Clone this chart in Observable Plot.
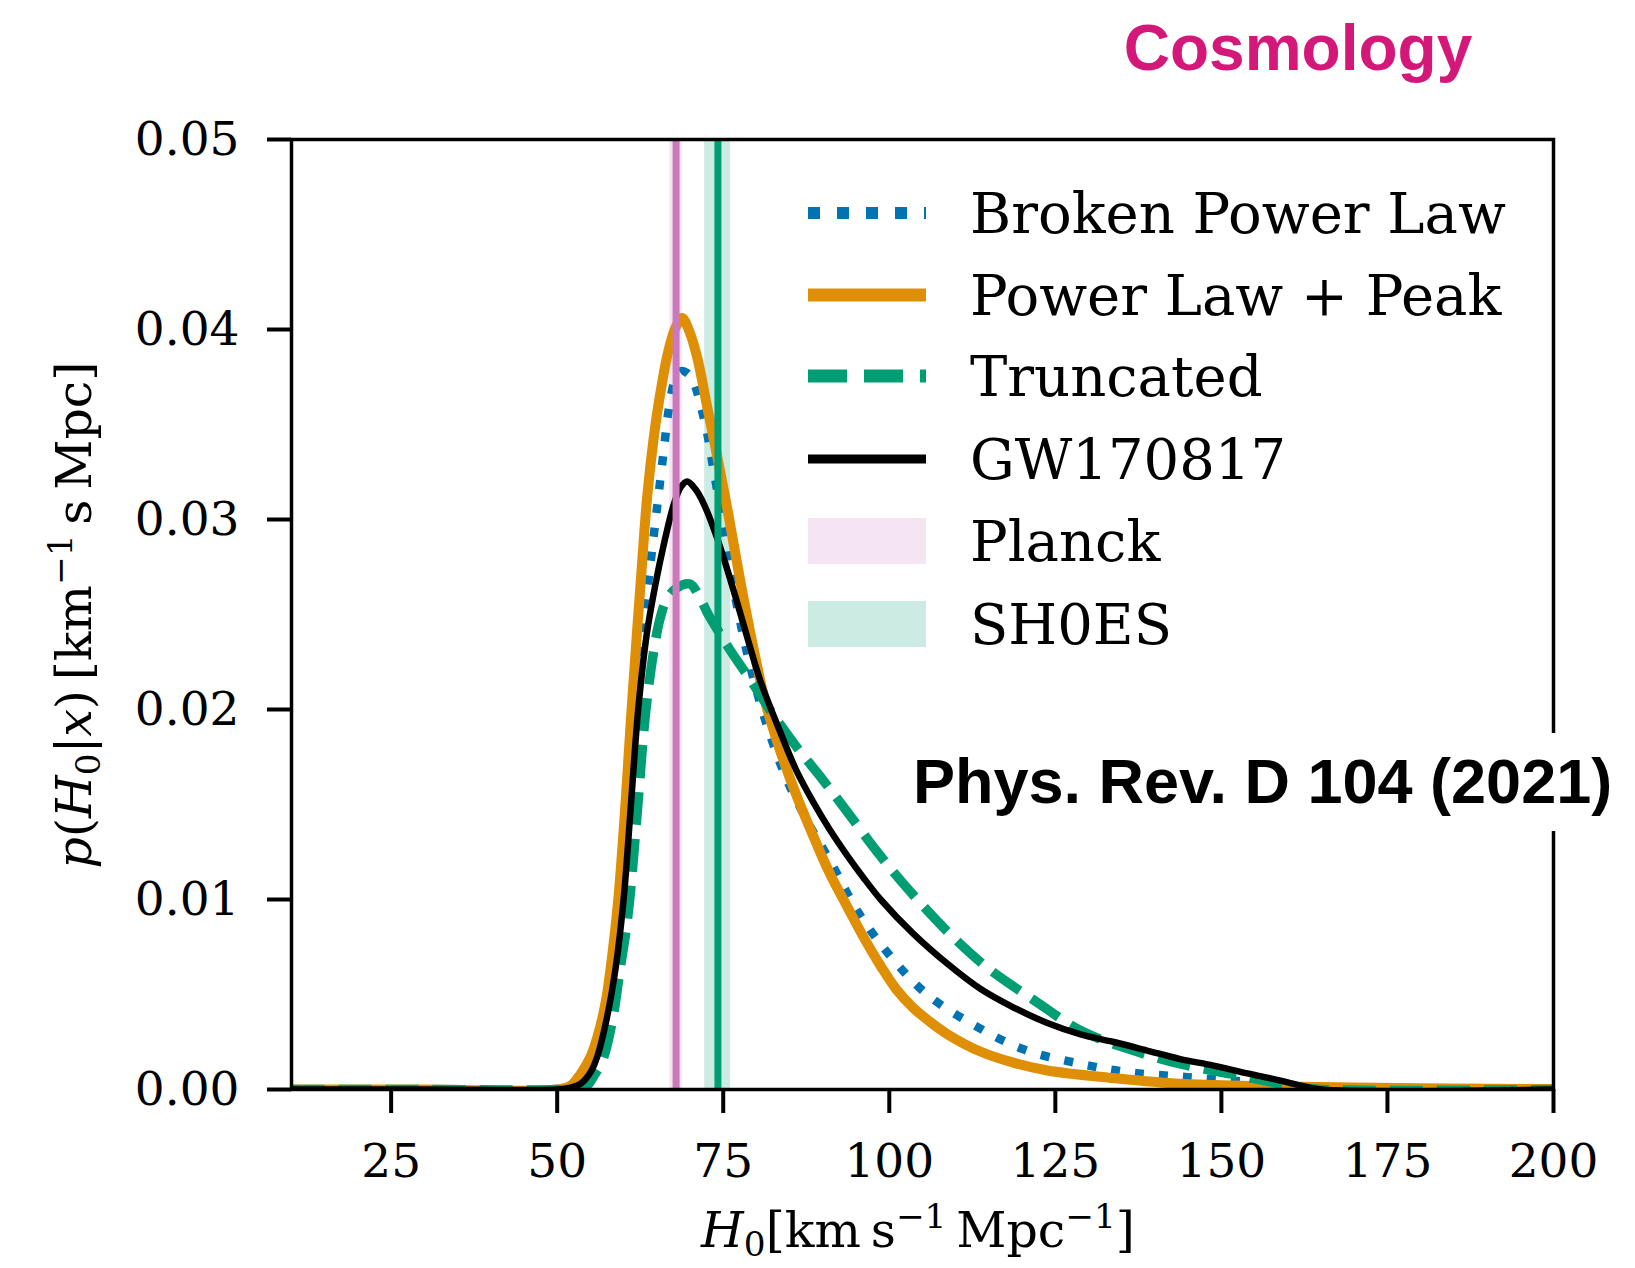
<!DOCTYPE html>
<html>
<head>
<meta charset="utf-8">
<script src="https://cdn.jsdelivr.net/npm/d3@7"></script>
<script src="https://cdn.jsdelivr.net/npm/@observablehq/plot@0.6"></script>
<style>
  html, body { margin: 0; padding: 0; background: #fff; }
  #fig { position: relative; width: 1635px; height: 1268px; overflow: hidden; background: #fff; }
  #fig > svg { position: absolute; left: 0; top: 0; }
  #overlay { pointer-events: none; }
</style>
</head>
<body>
<div id="fig"></div>
<script>
// Axis ticks
const xTicks = [25, 50, 75, 100, 125, 150, 175, 200];
const yTicks = [0, 0.01, 0.02, 0.03, 0.04, 0.05];

// Posterior on H0 — Broken Power Law mass model
const brokenH0 = [10, 30, 50, 51.5, 53.5, 55, 56, 57.3, 58.3, 59.5, 60.3, 61, 62, 63, 64.05, 65.06, 66, 66.8, 67.7, 68.6, 69.6,
  70.57, 71.6, 72.6, 73.3, 74.8, 76.5, 78.5, 80.5, 82.5, 84.7, 88, 91.15, 95.2, 100.2, 105.7, 112.7, 120.3, 128.8, 136.3, 144.9,
  153.9, 160, 166, 175, 200];
const brokenP = [0, 0, 0, 0.0002, 0.0008, 0.0015, 0.0022, 0.004, 0.0064, 0.0097, 0.013, 0.0162, 0.0205, 0.0245, 0.0277, 0.0307, 0.0335, 0.0358, 0.0373, 0.0378, 0.0377,
  0.0372, 0.036, 0.0345, 0.0331, 0.0301, 0.0265, 0.0231, 0.0204, 0.0182, 0.0162, 0.0139, 0.012, 0.0094, 0.007, 0.005, 0.0034, 0.0021, 0.00135, 0.0009, 0.00065,
  0.0004, 0.0002, 0.00005, 0, 0];

// Power Law + Peak mass model
const plpH0 = [10, 30, 50, 52, 53.5, 55, 56, 57.3, 58.3, 59.2, 60.2, 61.1, 62, 62.8, 63.55, 64.8, 65.8, 66.56, 67.7, 68.8,
  69.9, 71.1, 72.6, 74.1, 75.6, 77.6, 79.5, 81.4, 83.6, 86, 88.6, 91, 93.7, 96, 98.7, 101, 103.6, 106, 108.8, 113.7,
  118.8, 123.8, 133.8, 143.8, 156.3, 170, 185, 200];
const plpP = [0, 0, 0, 0.0002, 0.0008, 0.0017, 0.0027, 0.0046, 0.0071, 0.01, 0.0146, 0.0195, 0.024, 0.0278, 0.0312, 0.035, 0.0372, 0.0386, 0.04, 0.0406,
  0.0399, 0.0385, 0.0359, 0.0333, 0.0306, 0.0267, 0.0233, 0.0203, 0.0178, 0.0155, 0.0133, 0.0114, 0.0096, 0.0081, 0.0065, 0.0053, 0.0043, 0.0036, 0.0029, 0.002,
  0.0014, 0.001, 0.0006, 0.0003, 0.00018, 0.0001, 0.00005, 0.00002];

// Truncated mass model
const truncH0 = [10, 30, 50, 53, 54.5, 55.5, 56.8, 58.3, 59.5, 60.3, 61, 62.1, 63.3, 64.5, 65.5, 66.5, 68, 70, 71.3, 72.75, 74.3, 75.9,
  79, 82.2, 86.1, 90, 93.7, 98.2, 102.7, 108.8, 114.8, 121.8, 128.8, 136.3, 143.8, 151.4, 156.4, 161, 165, 200];
const truncP = [0, 0, 0, 0.0001, 0.0002, 0.0007, 0.0015, 0.0036, 0.0064, 0.0082, 0.0103, 0.0148, 0.0198, 0.023, 0.0248, 0.0258, 0.0264, 0.0266, 0.026, 0.025, 0.0241, 0.0232,
  0.0216, 0.0199, 0.018, 0.0163, 0.0146, 0.0125, 0.0106, 0.0083, 0.0064, 0.0047, 0.0031, 0.0021, 0.00135, 0.00082, 0.00047, 0.00015, 0, 0];

// GW170817 bright siren alone
const gwH0 = [10, 30, 50, 52, 53.5, 55, 56, 57.5, 58.8, 60, 61, 62.2, 63.5, 64.8, 66.06, 67.56, 68.6, 69.57, 70.8, 72.1,
  74.1, 76.1, 78.2, 80.6, 83.6, 86, 88.6, 91, 93.7, 96, 98.7, 103.6, 108.8, 113.7, 118.8, 123.8, 128.8, 133.8, 138.8, 143.8,
  148.8, 153.9, 158.9, 162, 165, 200];
const gwP = [0, 0, 0, 0.0001, 0.0003, 0.0009, 0.0017, 0.0038, 0.0064, 0.01, 0.0145, 0.02, 0.024, 0.0266, 0.0287, 0.0308, 0.0317, 0.032, 0.0316, 0.0308,
  0.029, 0.0268, 0.0243, 0.0215, 0.0188, 0.0168, 0.0151, 0.0137, 0.0123, 0.0112, 0.01, 0.0082, 0.0066, 0.0053, 0.0043, 0.0035, 0.0029, 0.0025, 0.00205, 0.0016,
  0.00126, 0.00085, 0.00047, 0.0002, 0, 0];

// Reference measurements (central value and 1-sigma band)
const planckH0 = 67.9, planckBand = [66.95, 68.85];
const shoesH0 = 74.2, shoesBand = [72.2, 76.1];

const legendLabels = ["Broken Power Law", "Power Law + Peak", "Truncated", "GW170817", "Planck", "SH0ES"];
const titleText = "Cosmology";
const sourceText = "Phys. Rev. D 104 (2021)";

const zip = (xs, ys) => xs.map((x, i) => ({h0: x, p: ys[i]}));
const broken = zip(brokenH0, brokenP);
const plp = zip(plpH0, plpP);
const trunc = zip(truncH0, truncP);
const gw = zip(gwH0, gwP);

const C = {blue: "#0173b2", orange: "#de8f05", green: "#029e73", pink: "#cc78bc"};
const serif = "'DejaVu Serif', serif";
const smooth = "catmull-rom";

const chart = Plot.plot({
  width: 1635,
  height: 1268,
  marginLeft: 291,
  marginRight: 82,
  marginTop: 139,
  marginBottom: 179,
  style: {fontFamily: serif, fontSize: "47px", color: "#000", background: "transparent"},
  x: {domain: [10, 200]},
  y: {domain: [0, 0.05]},
  marks: [
    Plot.rect([{a: planckBand[0], b: planckBand[1]}], {x1: "a", x2: "b", fill: C.pink, fillOpacity: 0.2}),
    Plot.rect([{a: shoesBand[0], b: shoesBand[1]}], {x1: "a", x2: "b", fill: C.green, fillOpacity: 0.2}),
    Plot.line(broken, {x: "h0", y: "p", stroke: C.blue, strokeWidth: 8.5, strokeDasharray: "9,15", strokeLinecap: "butt", curve: smooth, clip: true}),
    Plot.line(plp, {x: "h0", y: "p", stroke: C.orange, strokeWidth: 10, curve: smooth, clip: true}),
    Plot.line(trunc, {x: "h0", y: "p", stroke: C.green, strokeWidth: 9.5, strokeDasharray: "33,14", strokeLinecap: "butt", curve: smooth, clip: true}),
    Plot.line(gw, {x: "h0", y: "p", stroke: "#000", strokeWidth: 6.5, curve: smooth, clip: true}),
    Plot.ruleX([planckH0], {stroke: C.pink, strokeWidth: 7}),
    Plot.ruleX([shoesH0], {stroke: C.green, strokeWidth: 7}),
    Plot.axisX({ticks: xTicks, tickSize: 24, tickPadding: 30, strokeWidth: 4, label: null, fontSize: 47}),
    Plot.axisY({ticks: yTicks, tickSize: 24, tickPadding: 28, strokeWidth: 4, label: null, fontSize: 47, tickFormat: d3.format(".2f")}),
    Plot.frame({stroke: "#000", strokeWidth: 3.5})
  ]
});

const fig = document.getElementById("fig");
fig.appendChild(chart);

// Overlay: title, source note, legend and axis titles
const svg = d3.create("svg")
  .attr("id", "overlay")
  .attr("width", 1635)
  .attr("height", 1268)
  .attr("font-family", serif);

// Rich text with italic letters, subscripts and superscripts
function richText(g, parts, size) {
  const t = g.append("text").attr("font-size", size);
  let shift = 0;
  for (const p of parts) {
    const target = p.sub ? 0.18 * size : p.sup ? -0.38 * size : 0;
    const ts = t.append("tspan").text(p.t).attr("dy", target - shift);
    if (p.sub || p.sup) ts.attr("font-size", size * 0.7);
    if (p.i) ts.attr("font-style", "italic");
    shift = target;
  }
  return t;
}

// x-axis title
richText(svg.append("g").attr("transform", "translate(918,1247)"), [
  {t: "H", i: true}, {t: "0", sub: true}, {t: "[km\u2009s"}, {t: "\u22121", sup: true},
  {t: "\u2009Mpc"}, {t: "\u22121", sup: true}, {t: "]"}
], 49).attr("text-anchor", "middle");

// y-axis title
richText(svg.append("g").attr("transform", "translate(91,615) rotate(-90)"), [
  {t: "p", i: true}, {t: "("}, {t: "H", i: true}, {t: "0", sub: true}, {t: "|"}, {t: "x", i: true}, {t: ")"},
  {t: "\u2009[km"}, {t: "\u22121", sup: true}, {t: "\u2009s\u2009Mpc]"}
], 49).attr("text-anchor", "middle");

// Legend
const rowY = [213, 295, 376, 459, 541, 624];
const hx0 = 808, hx1 = 926, tx = 970;
const leg = svg.append("g");
leg.append("line").attr("x1", hx0).attr("x2", hx1).attr("y1", rowY[0]).attr("y2", rowY[0])
  .attr("stroke", C.blue).attr("stroke-width", 12).attr("stroke-dasharray", "12,17");
leg.append("line").attr("x1", hx0).attr("x2", hx1).attr("y1", rowY[1]).attr("y2", rowY[1])
  .attr("stroke", C.orange).attr("stroke-width", 13);
leg.append("line").attr("x1", hx0).attr("x2", hx1).attr("y1", rowY[2]).attr("y2", rowY[2])
  .attr("stroke", C.green).attr("stroke-width", 13).attr("stroke-dasharray", "39,17");
leg.append("line").attr("x1", hx0).attr("x2", hx1).attr("y1", rowY[3]).attr("y2", rowY[3])
  .attr("stroke", "#000").attr("stroke-width", 9);
leg.append("rect").attr("x", hx0).attr("width", hx1 - hx0).attr("y", rowY[4] - 23).attr("height", 46)
  .attr("fill", C.pink).attr("fill-opacity", 0.2);
leg.append("rect").attr("x", hx0).attr("width", hx1 - hx0).attr("y", rowY[5] - 23).attr("height", 46)
  .attr("fill", C.green).attr("fill-opacity", 0.2);
legendLabels.forEach((s, i) => {
  leg.append("text").attr("x", tx).attr("y", rowY[i] + 20).attr("font-size", 56).attr("fill", "#000").text(s);
});

// Source note on a white panel
svg.append("rect").attr("x", 900).attr("y", 733).attr("width", 735).attr("height", 98).attr("fill", "#fff");
svg.append("text").attr("x", 913).attr("y", 803)
  .attr("font-family", "'Liberation Sans', Arial, sans-serif").attr("font-weight", "bold")
  .attr("font-size", 63).attr("fill", "#000").text(sourceText);

// Title
svg.append("text").attr("x", 1298).attr("y", 70).attr("text-anchor", "middle")
  .attr("font-family", "'Liberation Sans', Arial, sans-serif").attr("font-weight", "bold")
  .attr("font-size", 64).attr("fill", "#d4187a").text(titleText);

fig.appendChild(svg.node());
</script>
</body>
</html>
